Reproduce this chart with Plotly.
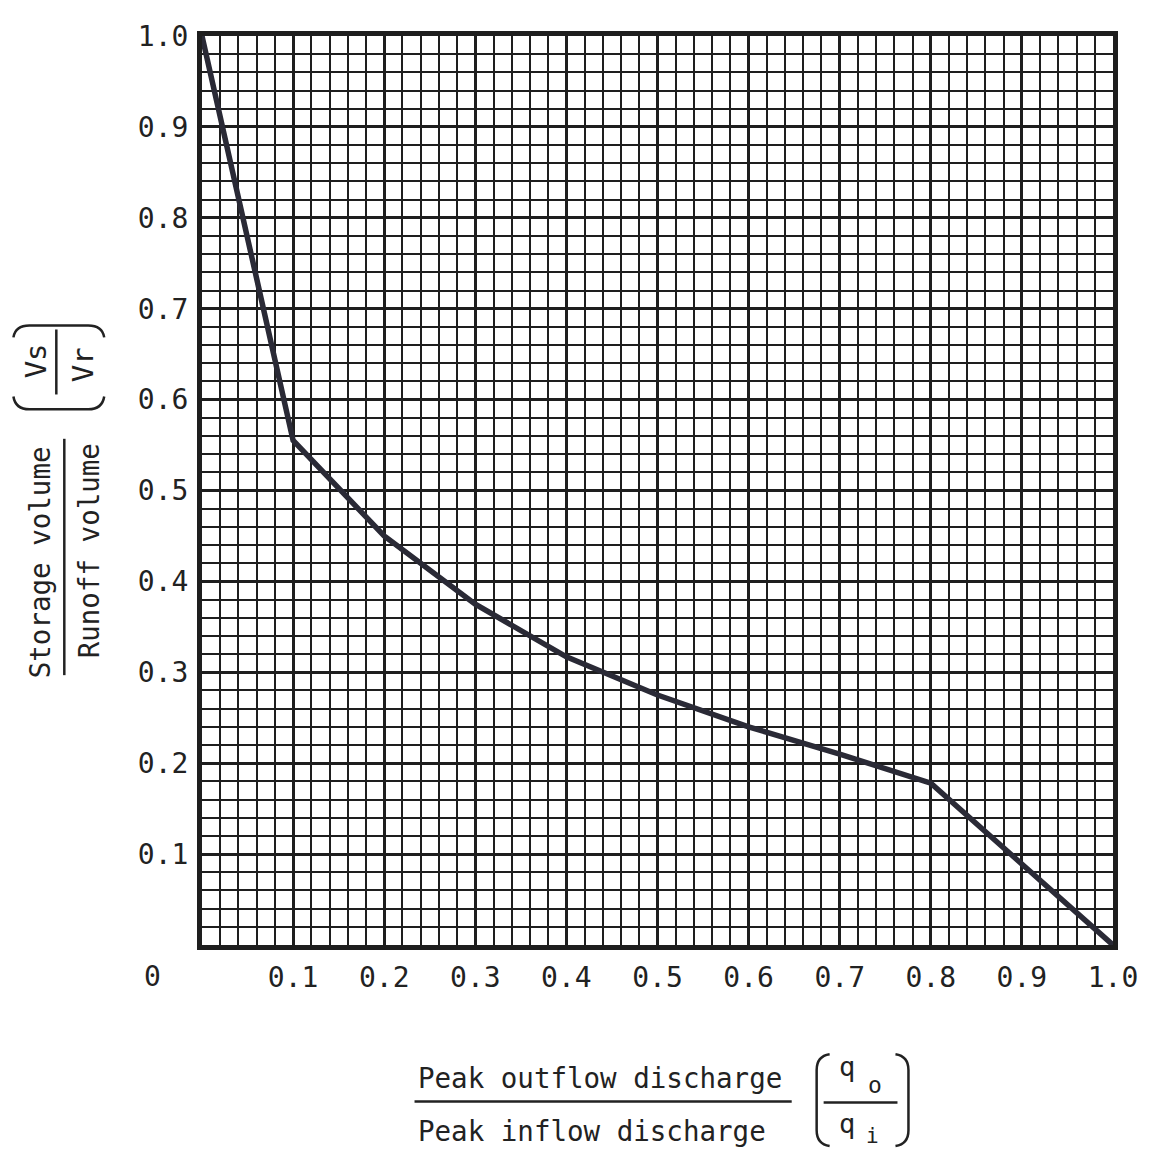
import plotly.graph_objects as go

# ---- data ----
discharge_ratio = [0.0, 0.1, 0.2, 0.3, 0.4, 0.5, 0.6, 0.7, 0.8, 0.9, 1.0]
storage_ratio = [1.0, 0.555, 0.45, 0.375, 0.317, 0.275, 0.24, 0.21, 0.178, 0.09, 0.0]

tick_values = [0.1, 0.2, 0.3, 0.4, 0.5, 0.6, 0.7, 0.8, 0.9, 1.0]
tick_labels = ["0.1", "0.2", "0.3", "0.4", "0.5", "0.6", "0.7", "0.8", "0.9", "1.0"]

# ---- layout geometry (page pixels) ----
WIDTH, HEIGHT = 1150, 1155
OFF = 8  # default body margin of the html page
L, T, W, H = 202, 22, 913, 923
INK = "#1e1e1e"
FONT = "DejaVu Sans Mono"


def px(X):
    return (X - L) / W


def py(Y):
    return (T + H - Y) / H


fig = go.Figure()
fig.add_trace(go.Scatter(
    x=discharge_ratio, y=storage_ratio, mode="lines",
    line=dict(color="#2a2a36", width=5.5), showlegend=False, hoverinfo="skip",
))

axis_common = dict(
    range=[0, 1], tickvals=tick_values, ticktext=tick_labels,
    showgrid=True, gridcolor=INK, gridwidth=3,
    minor=dict(dtick=0.02, tick0=0, showgrid=True, gridcolor=INK, gridwidth=1.8),
    showline=True, linecolor=INK, linewidth=5, mirror=True,
    ticks="", ticklen=0, zeroline=False, ticklabelstandoff=3,
    tickfont=dict(family=FONT, size=28, color="#222"),
    fixedrange=True,
)

fw, fh = WIDTH - OFF, HEIGHT - OFF
fig.update_layout(
    width=fw, height=fh,
    margin=dict(l=L - OFF, r=fw - (L - OFF) - W, t=T - OFF, b=fh - (T - OFF) - H, pad=0),
    paper_bgcolor="white", plot_bgcolor="white",
    xaxis=axis_common, yaxis=axis_common,
    showlegend=False,
)


def text(s, X, Y, size=27.5, angle=0, xanchor="center"):
    fig.add_annotation(
        text=s, x=px(X), y=py(Y), xref="paper", yref="paper",
        showarrow=False, textangle=angle, xanchor=xanchor, yanchor="middle",
        font=dict(family=FONT, size=size, color="#222"),
    )


def hline(X0, X1, Y, w=2.5):
    fig.add_shape(type="line", xref="paper", yref="paper",
                  x0=px(X0), x1=px(X1), y0=py(Y), y1=py(Y),
                  line=dict(color="#222", width=w))


def vline(X, Y0, Y1, w=2.5):
    fig.add_shape(type="line", xref="paper", yref="paper",
                  x0=px(X), x1=px(X), y0=py(Y0), y1=py(Y1),
                  line=dict(color="#222", width=w))


def path(points):
    d = ""
    for cmd, pts in points:
        d += cmd + " " + " ".join(f"{px(a):.5f},{py(b):.5f}" for a, b in pts) + " "
    fig.add_shape(type="path", xref="paper", yref="paper", path=d.strip(),
                  line=dict(color="#222", width=2.5))


# corner origin label
text("0", 152, 977, size=28)

# x-axis title (fraction)
text("Peak outflow discharge", 416, 1080, xanchor="left")
hline(415, 793, 1104)
text("Peak inflow discharge", 416, 1134, xanchor="left")
# (q_o / q_i)
path([("M", [(831, 1056)]), ("Q", [(818, 1058), (818, 1072)]),
      ("L", [(818, 1133)]), ("Q", [(818, 1147), (831, 1149)])])
path([("M", [(897, 1056)]), ("Q", [(910, 1058), (910, 1072)]),
      ("L", [(910, 1133)]), ("Q", [(910, 1147), (897, 1149)])])
text("q", 848, 1068, size=27)
text("o", 876, 1087, size=23)
hline(825, 899, 1105)
text("q", 848, 1126, size=27)
text("i", 874, 1139, size=21)

# y-axis title (fraction, rotated)
text("Storage volume", 40, 556, angle=-90)
vline(64, 431, 671)
text("Runoff volume", 89, 545, angle=-90)
# (Vs / Vr)
path([("M", [(13, 388)]), ("Q", [(15, 401), (29, 401)]),
      ("L", [(88, 401)]), ("Q", [(102, 401), (104, 388)])])
path([("M", [(13, 328)]), ("Q", [(15, 316), (29, 316)]),
      ("L", [(88, 316)]), ("Q", [(102, 316), (104, 328)])])
text("Vs", 36, 352, size=29, angle=-90)
vline(56, 320, 386)
text("Vr", 83, 356, size=29, angle=-90)

fig.write_html("out.html")
